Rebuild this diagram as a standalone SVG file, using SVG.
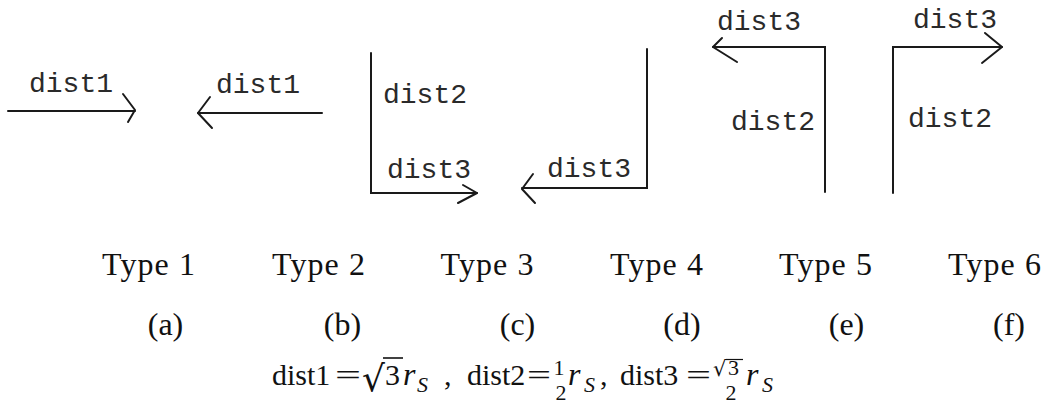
<svg xmlns="http://www.w3.org/2000/svg" width="1047" height="409" viewBox="0 0 1047 409">
<style>
.ln{fill:none;stroke:#1a1a1a;stroke-width:2;stroke-linecap:round;stroke-linejoin:miter}
.hd{fill:none;stroke:#1a1a1a;stroke-width:2;stroke-linecap:round;stroke-linejoin:round}
.mono{font-family:"Liberation Mono","DejaVu Sans Mono",monospace;font-size:28px;fill:#2a2a2a}
.ser{font-family:"Liberation Serif","DejaVu Serif",serif;font-size:30px;fill:#111}
.lab{font-family:"Liberation Serif","DejaVu Serif",serif;font-size:32px;fill:#111}
.it{font-family:"Liberation Serif","DejaVu Serif",serif;font-style:italic;fill:#111}
.sm{font-family:"Liberation Serif","DejaVu Serif",serif;font-size:22px;fill:#111}
.rad{font-family:"DejaVu Sans",sans-serif;fill:#111}
</style>
<rect width="1047" height="409" fill="#fff"/>
<g id="type1">
<line class="ln" x1="8" y1="111" x2="135" y2="111"/>
<polyline class="hd" points="123,94 135,110 128,122"/>
<text class="mono" x="29" y="92">dist1</text>
</g>
<g id="type2">
<line class="ln" x1="198" y1="113" x2="322" y2="113"/>
<polyline class="hd" points="210,97 198,113 212,128"/>
<text class="mono" x="216" y="93">dist1</text>
</g>
<g id="type3">
<polyline class="ln" points="371,53 371,193 477,193"/>
<polyline class="hd" points="463,185 477,193 458,203"/>
<text class="mono" x="383" y="103">dist2</text>
<text class="mono" x="387" y="178">dist3</text>
</g>
<g id="type4">
<polyline class="ln" points="647,49 647,188 522,188"/>
<polyline class="hd" points="533,174 522,189 535,203"/>
<text class="mono" x="547" y="177">dist3</text>
</g>
<g id="type5">
<polyline class="ln" points="825,192 825,47 713,47"/>
<polyline class="hd" points="722,38 713,47 737,62"/>
<text class="mono" x="717" y="30">dist3</text>
<text class="mono" x="731" y="130">dist2</text>
</g>
<g id="type6">
<polyline class="ln" points="893,193 893,47 1002,47"/>
<polyline class="hd" points="985,33 1002,47 982,63"/>
<text class="mono" x="913" y="28">dist3</text>
<text class="mono" x="908" y="127">dist2</text>
</g>
<g id="labels" text-anchor="middle">
<text class="lab" x="148.5" y="275" textLength="93" lengthAdjust="spacing">Type 1</text>
<text class="lab" x="318.5" y="275" textLength="93" lengthAdjust="spacing">Type 2</text>
<text class="lab" x="487" y="275" textLength="93" lengthAdjust="spacing">Type 3</text>
<text class="lab" x="656.5" y="275" textLength="93" lengthAdjust="spacing">Type 4</text>
<text class="lab" x="825.5" y="275" textLength="93" lengthAdjust="spacing">Type 5</text>
<text class="lab" x="994.5" y="275" textLength="93" lengthAdjust="spacing">Type 6</text>
<text class="lab" x="165.5" y="335">(a)</text>
<text class="lab" x="342.5" y="335">(b)</text>
<text class="lab" x="517.5" y="335">(c)</text>
<text class="lab" x="682" y="335">(d)</text>
<text class="lab" x="846.5" y="335">(e)</text>
<text class="lab" x="1009" y="335">(f)</text>
</g>
<g id="formula">
<text class="ser" x="272" y="385">dist1</text>
<text class="ser" x="335" y="385" textLength="26" lengthAdjust="spacingAndGlyphs">=</text>
<text class="rad" x="362" y="391" font-size="36">√</text>
<line x1="383" y1="358" x2="403" y2="358" stroke="#111" stroke-width="1.6"/>
<text class="ser" x="385" y="385">3</text>
<text class="it" x="403" y="385" font-size="32">r</text>
<text class="it" x="417" y="392" font-size="22">S</text>
<text class="ser" x="444" y="385">,</text>
<text class="ser" x="467" y="385">dist2</text>
<text class="ser" x="527" y="385" textLength="24" lengthAdjust="spacingAndGlyphs">=</text>
<text class="sm" x="559" y="375" text-anchor="middle">1</text>
<text class="sm" x="561" y="400" text-anchor="middle">2</text>
<text class="it" x="568" y="385" font-size="32">r</text>
<text class="it" x="584" y="392" font-size="22">S</text>
<text class="ser" x="600" y="385">,</text>
<text class="ser" x="620" y="385">dist3</text>
<text class="ser" x="686" y="385" textLength="25" lengthAdjust="spacingAndGlyphs">=</text>
<text class="rad" x="713" y="376" font-size="21">√</text>
<line x1="726" y1="359.5" x2="743" y2="359.5" stroke="#111" stroke-width="1.2"/>
<text class="sm" x="728" y="375">3</text>
<text class="sm" x="731" y="400" text-anchor="middle">2</text>
<text class="it" x="746" y="385" font-size="32">r</text>
<text class="it" x="762" y="392" font-size="22">S</text>
</g>
</svg>
